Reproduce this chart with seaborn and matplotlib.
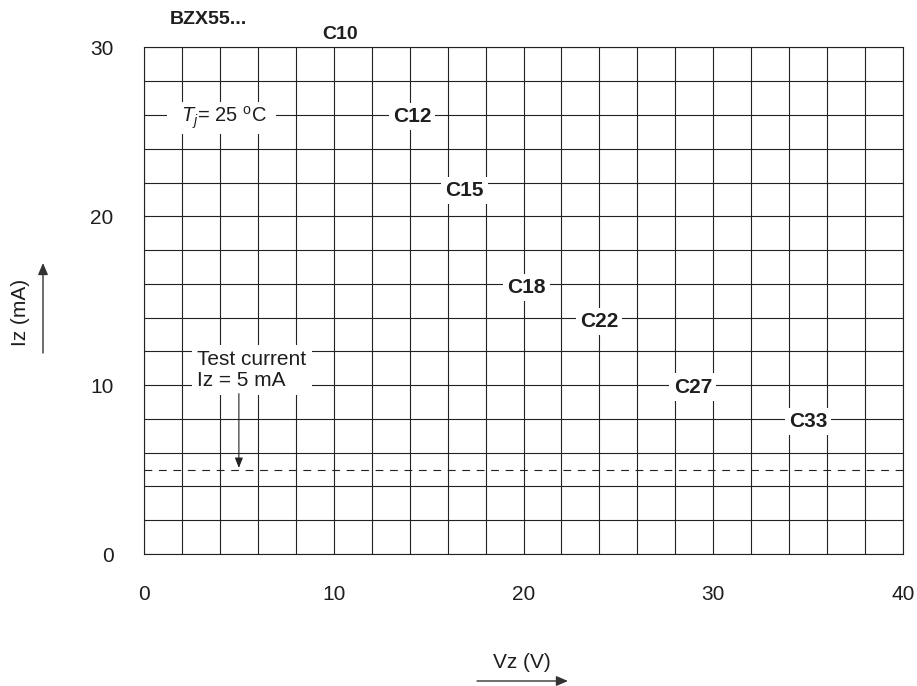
import matplotlib
matplotlib.use("Agg")
import matplotlib.pyplot as plt
import seaborn as sns
import numpy as np
import pandas as pd

# ---- data ----
types = ["C12", "C15", "C18", "C22", "C27", "C33"]
label_vz = [14.12, 16.91, 20.16, 23.98, 28.92, 34.99]
label_iz = [26.04, 21.66, 15.92, 13.9, 10.0, 7.96]
top_type = "C10"
top_vz, top_iz = 10.33, 30.86
test_vz = [0, 40]
test_iz = [5, 5]
x_ticks = [0, 10, 20, 30, 40]
y_ticks = [0, 10, 20, 30]

sns.set_theme(style="white")
plt.rcParams['font.family'] = ['Liberation Sans', 'DejaVu Sans']
plt.rcParams['mathtext.fontset'] = 'custom'
plt.rcParams['mathtext.rm'] = 'Liberation Sans'
plt.rcParams['mathtext.it'] = 'Liberation Sans:italic'

TXT = "#1e1e1e"
W, H = 917, 686

fig = plt.figure(figsize=(9.17, 6.86), dpi=100)
ax = fig.add_axes([144 / W, 1 - 554 / H, 759 / W, 506.5 / H])

df = pd.DataFrame({"Vz": test_vz, "Iz": test_iz})
sns.lineplot(data=df, x="Vz", y="Iz", ax=ax, color="#222222", lw=0.8,
             linestyle=(0, (7, 6)))

ax.set_xlim(0, 40)
ax.set_ylim(0, 30)
ax.set_xticks(x_ticks)
ax.set_yticks(y_ticks)
ax.set_xticks(np.arange(0, 41, 2), minor=True)
ax.set_yticks(np.arange(0, 31, 2), minor=True)
ax.grid(True, which="both", color="#222222", lw=0.8)
ax.set_axisbelow(True)
ax.tick_params(which="both", length=0, labelsize=15, colors=TXT)
ax.tick_params(axis="x", pad=22.5)
ax.tick_params(axis="y", pad=22)
for s in ax.spines.values():
    s.set_color("#222222")
    s.set_linewidth(0.8)
ax.set_xlabel("")
ax.set_ylabel("")

bb = dict(facecolor="white", edgecolor="none", pad=3)
for t, vx, iy in zip(types, label_vz, label_iz):
    ax.text(vx, iy, t, ha="center", va="center_baseline", fontsize=15,
            fontweight="bold", color=TXT, bbox=bb)
ax.text(top_vz, top_iz, top_type, ha="center", va="center_baseline",
        fontsize=14, fontweight="bold", color=TXT, clip_on=False)

ax.text(4.09, 26.1, r"  $T_j$= 25 $^{\rm o}$C  ", ha="center", va="center_baseline",
        fontsize=14.5, color=TXT, bbox=dict(facecolor="white", edgecolor="none", pad=2))
ax.text(2.8, 10.9, "Test current\nIz = 5 mA", ha="left", va="center",
        fontsize=15, color=TXT, linespacing=1.1,
        bbox=dict(facecolor="white", edgecolor="none", pad=4))
ax.annotate("", xy=(5, 5.1), xytext=(5, 9.5),
            arrowprops=dict(arrowstyle="-|>,head_length=0.5,head_width=0.2",
                            color="#222222", lw=0.8, shrinkA=0, shrinkB=0))

fig.text(208.5 / W, 1 - 20 / H, "BZX55...", ha="center", va="center",
         fontsize=14, fontweight="bold", color=TXT)

# axis labels with arrows
fig.text(522 / W, 1 - 662 / H, "Vz (V)", ha="center", va="center",
         fontsize=15, color=TXT)
fig.text(21 / W, 1 - 312 / H, "Iz (mA)", ha="center", va="center",
         rotation=90, fontsize=15, color=TXT)
fig.patches.append(matplotlib.patches.FancyArrowPatch(
    (477 / W, 1 - 681 / H), (568 / W, 1 - 681 / H), transform=fig.transFigure,
    arrowstyle="-|>,head_length=7,head_width=3", color="#333333", lw=1.0,
    shrinkA=0, shrinkB=0))
fig.patches.append(matplotlib.patches.FancyArrowPatch(
    (43 / W, 1 - 353 / H), (43 / W, 1 - 263 / H), transform=fig.transFigure,
    arrowstyle="-|>,head_length=7,head_width=3", color="#333333", lw=1.0,
    shrinkA=0, shrinkB=0))

fig.savefig("out.png", dpi=100)
